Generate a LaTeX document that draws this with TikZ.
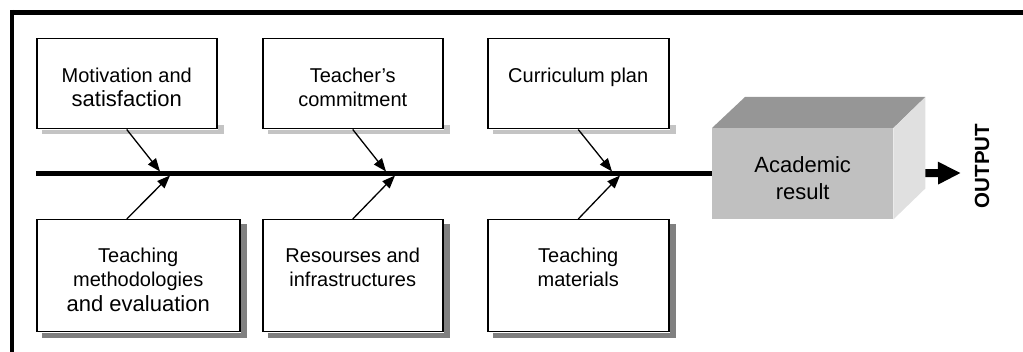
\documentclass[tikz,border=0pt]{standalone}
\usepackage{fontspec}
\setmainfont{Liberation Sans}
\usetikzlibrary{arrows.meta,calc}
\definecolor{frontgray}{HTML}{C0C0C0}
\definecolor{topgray}{HTML}{969696}
\definecolor{sidegray}{HTML}{E0E0E0}
\definecolor{lightshadow}{HTML}{C4C4C4}
\definecolor{darkshadow}{HTML}{808080}
\begin{document}
\begin{tikzpicture}[x=1pt,y=-1pt,
  box/.style={draw,line width=1.5pt,fill=white,inner sep=0pt,anchor=north west,minimum height=90pt},
  lowbox/.style={box,minimum height=112pt},
  boxtext/.style={anchor=north,inner sep=0pt,align=center,font=\fontsize{20}{24.5}\selectfont},
  branch/.style={line width=1.3pt,-{Triangle[length=13pt,width=10pt]}},
  topshadow/.style={fill=lightshadow},
  lowshadow/.style={fill=darkshadow}
]
\useasboundingbox (0,0) rectangle (1023,352);
% frame (only top and left sides visible)
\draw[line width=5pt] (10,12.5) -- (1040,12.5);
\draw[line width=4.5pt] (12,10) -- (12,370);

% boxes
\node[box,minimum width=180pt] (t1) at (36,38) {};
\node[box,minimum width=180pt] (t2) at (262,38) {};
\node[box,minimum width=181pt] (t3) at (487,38) {};
\node[lowbox,minimum width=203pt] (b1) at (36,219) {};
\node[lowbox,minimum width=180pt] (b2) at (262,219) {};
\node[lowbox,minimum width=181pt] (b3) at (487,219) {};

% shadows
\foreach \n in {t1,t2,t3}{
  \fill[topshadow] ($(\n.south west)+(6,0.75)$) rectangle ($(\n.south east)+(6,5)$);
  \fill[topshadow] ($(\n.south east)+(0.75,-4)$) rectangle ($(\n.south east)+(6,5)$);
}
\foreach \n in {b1,b2,b3}{
  \fill[lowshadow] ($(\n.south west)+(6,0.75)$) rectangle ($(\n.south east)+(6,6)$);
  \fill[lowshadow] ($(\n.north east)+(0.75,5)$) rectangle ($(\n.south east)+(6,6)$);
}

% texts
\node[boxtext] (tt1) at ($(t1.north)+(0,29.5)$) {Motivation and\\{\fontsize{22}{24.5}\selectfont satisfaction}};
\node[boxtext] (tt2) at ($(t2.north)+(0,29.5)$) {Teacher’s\\commitment};
\node[boxtext] (tt3) at ($(t3.north)+(0,29.5)$) {Curriculum plan};
\node[boxtext] (bt1) at ($(b1.north)+(0,28.5)$) {Teaching\\methodologies\\{\fontsize{22}{25}\selectfont and evaluation}};
\node[boxtext] (bt2) at ($(b2.north)+(0,28.5)$) {Resourses and\\infrastructures};
\node[boxtext] (bt3) at ($(b3.north)+(0,28.5)$) {Teaching\\materials};

% academic result 3D box
\node[fill=frontgray,inner sep=0pt,minimum width=181pt,minimum height=91pt,anchor=north west] (ar) at (712,128) {};
\fill[topgray] (ar.north west) -- ++(33,-31) -- ($(ar.north east)+(32,-31)$) -- (ar.north east) -- cycle;
\fill[sidegray] (ar.north east) -- ++(32,-31) -- ($(ar.south east)+(32,-31)$) -- (ar.south east) -- cycle;
\node[align=center,inner sep=0pt,font=\fontsize{22}{27}\selectfont] (arlbl) at ($(ar.center)+(0,4)$) {Academic\\result};
\coordinate (arout) at ($(ar.east)+(32,-0.5)$);

% spine
\coordinate (spinestart) at (36,173.5);
\draw[line width=5pt] (spinestart) -- (spinestart -| ar.west);

% junctions on the spine
\coordinate (j1t) at (160,171.5);
\coordinate (j1b) at (170,175.5);
\coordinate (j2t) at (386,171.5);
\coordinate (j2b) at (395,175.5);
\coordinate (j3t) at (612,171.5);
\coordinate (j3b) at (620,175.5);

% branch arrows
\draw[branch] (t1.south) -- (j1t);
\draw[branch] (t1.south |- b1.north) -- (j1b);
\draw[branch] (t2.south) -- (j2t);
\draw[branch] (t2.south |- b2.north) -- (j2b);
\draw[branch] (t3.south) -- (j3t);
\draw[branch] (t3.south |- b3.north) -- (j3b);

% output arrow
\coordinate (outtip) at (961,173);
\draw[line width=8pt,-{Triangle[length=23pt,width=21pt]}] (arout) -- (outtip);
\node[rotate=90,font=\bfseries\fontsize{20.5}{20.5}\selectfont,inner sep=0pt] (outlbl) at (982,166) {OUTPUT};
\end{tikzpicture}
\end{document}
